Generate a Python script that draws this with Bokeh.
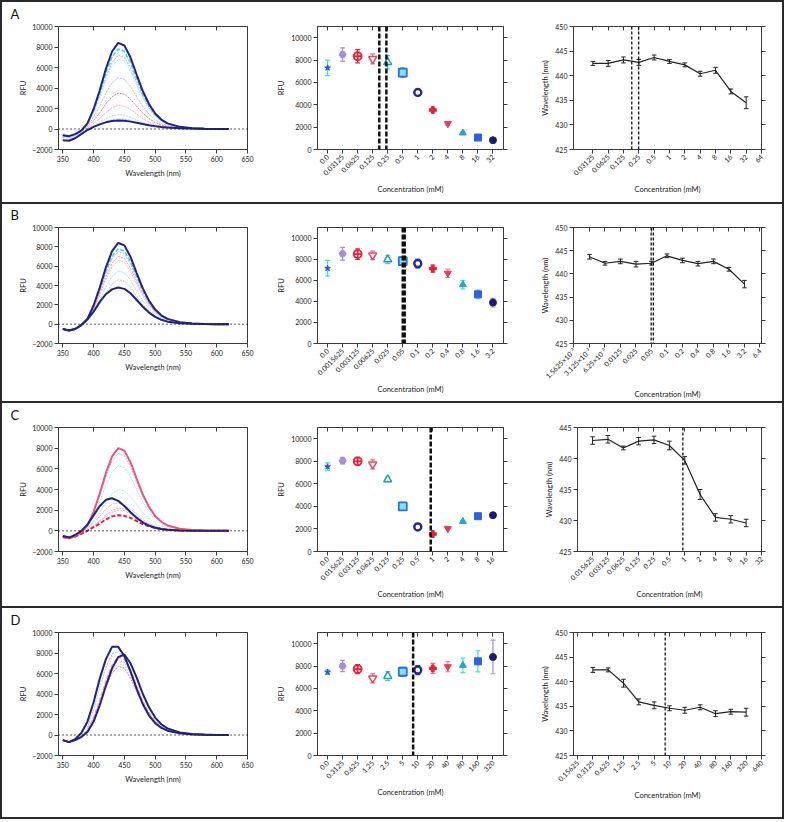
import math
from bokeh.plotting import figure
from bokeh.layouts import row, column
from bokeh.models import LinearAxis, FixedTicker, Span, Range1d, ColumnDataSource, CustomLabelingPolicy
from bokeh.embed import file_html
from bokeh.resources import INLINE

FONT = "Lato"
AX = "#3a3a3a"
NAVY = "#23237a"

# ---------------- data ----------------
wavelength = [350, 360, 370, 380, 390, 400, 410, 420, 430, 440, 450, 460, 470, 480, 490, 500, 510, 520, 540, 560, 580, 600, 620]

A_spectra = [
    [-600, -700, -500, -150, 540, 1930, 3780, 5880, 7560, 8400, 8150, 6970, 5290, 3700, 2440, 1510, 920, 550, 210, 80, 30, 0, 0],
    [-600, -700, -500, -150, 500, 1790, 3510, 5460, 7020, 7800, 7570, 6470, 4910, 3430, 2260, 1400, 860, 510, 200, 80, 30, 0, 0],
    [-600, -700, -500, -150, 450, 1660, 3240, 5040, 6480, 7200, 6980, 5980, 4540, 3170, 2090, 1300, 790, 470, 180, 70, 30, 0, 0],
    [-600, -700, -500, -150, 430, 1560, 3060, 4760, 6120, 6800, 6600, 5640, 4280, 2990, 1970, 1220, 750, 440, 170, 70, 30, 0, 0],
    [-600, -700, -500, -150, 300, 1150, 2250, 3500, 4500, 5000, 4850, 4150, 3150, 2200, 1450, 900, 550, 330, 130, 50, 20, 0, 0],
    [-650, -750, -550, -200, 200, 800, 1580, 2450, 3150, 3500, 3400, 2900, 2200, 1540, 1020, 630, 390, 230, 90, 40, 10, 0, 0],
    [-700, -800, -600, -250, 50, 530, 1040, 1610, 2070, 2300, 2230, 1910, 1450, 1010, 670, 410, 250, 150, 60, 20, 10, 0, 0],
    [-750, -850, -650, -300, 0, 320, 630, 980, 1260, 1400, 1360, 1160, 880, 620, 410, 250, 150, 90, 40, 10, 0, 0, 0],
    [-800, -900, -700, -350, -50, 230, 450, 700, 900, 1000, 970, 830, 630, 440, 290, 180, 110, 70, 30, 10, 0, 0, 0],
    [-1100, -1150, -900, -500, -100, 200, 450, 650, 780, 820, 800, 720, 600, 480, 370, 280, 200, 150, 80, 40, 20, 10, 0],
]
B_spectra = [
    [-500, -650, -500, -100, 540, 1930, 3780, 5880, 7560, 8400, 8150, 6970, 5290, 3700, 2440, 1510, 920, 550, 210, 80, 30, 0, 0],
    [-500, -650, -500, -100, 500, 1790, 3510, 5460, 7020, 7800, 7570, 6470, 4910, 3430, 2260, 1400, 860, 510, 200, 80, 30, 0, 0],
    [-500, -650, -500, -100, 480, 1730, 3380, 5250, 6750, 7500, 7280, 6230, 4730, 3300, 2180, 1350, 830, 490, 190, 80, 30, 0, 0],
    [-500, -650, -500, -100, 440, 1610, 3150, 4900, 6300, 7000, 6790, 5810, 4410, 3080, 2030, 1260, 770, 460, 180, 70, 30, 0, 0],
    [-500, -650, -500, -100, 410, 1520, 2970, 4620, 5940, 6600, 6400, 5480, 4160, 2900, 1910, 1190, 730, 430, 170, 70, 30, 0, 0],
    [-500, -650, -500, -100, 340, 1270, 2480, 3850, 4950, 5500, 5340, 4570, 3470, 2420, 1600, 990, 610, 360, 140, 60, 20, 0, 0],
    [-500, -650, -500, -100, 400, 1200, 2070, 3220, 4140, 4600, 4460, 3820, 2900, 2020, 1330, 830, 510, 300, 120, 50, 20, 0, 0],
    [-500, -650, -500, -100, 500, 1300, 2300, 3100, 3600, 3800, 3650, 3200, 2500, 1800, 1200, 750, 450, 260, 100, 40, 10, 0, 0],
]
C_spectra = [
    [-500, -650, -500, -100, 510, 1840, 3600, 5600, 7200, 8000, 7760, 6640, 5040, 3520, 2320, 1440, 880, 520, 200, 80, 30, 0, 0],
    [-500, -650, -500, -100, 480, 1730, 3380, 5250, 6750, 7500, 7280, 6230, 4730, 3300, 2180, 1350, 830, 490, 190, 80, 30, 0, 0],
    [-500, -650, -500, -100, 390, 1450, 2840, 4410, 5670, 6300, 6110, 5230, 3970, 2770, 1830, 1130, 690, 410, 160, 60, 30, 0, 0],
    [-550, -700, -500, -150, 230, 920, 1800, 2800, 3600, 4000, 3880, 3320, 2520, 1760, 1160, 720, 440, 260, 100, 40, 20, 0, 0],
    [-600, -750, -550, -200, 200, 800, 1400, 2100, 2600, 2700, 2500, 2100, 1600, 1100, 700, 450, 280, 170, 60, 20, 10, 0, 0],
    [-650, -800, -600, -250, 50, 500, 990, 1540, 1980, 2200, 2130, 1830, 1390, 970, 640, 400, 240, 140, 60, 20, 10, 0, 0],
    [-650, -800, -600, -250, 0, 460, 900, 1400, 1800, 2000, 1940, 1660, 1260, 880, 580, 360, 220, 130, 50, 20, 10, 0, 0],
    [-500, -650, -400, 0, 600, 1500, 2400, 3000, 3150, 2900, 2400, 1800, 1250, 800, 500, 300, 180, 110, 40, 20, 0, 0, 0],
    [-600, -700, -550, -300, 0, 350, 700, 1100, 1400, 1500, 1450, 1250, 950, 650, 430, 270, 170, 100, 40, 10, 0, 0, 0],
]
D_spectra = [
    [-500, -700, -500, -150, 420, 1540, 3020, 4690, 6030, 6700, 6500, 5560, 4220, 2950, 1940, 1210, 740, 440, 170, 70, 30, 0, 0],
    [-500, -700, -500, -150, 440, 1610, 3150, 4900, 6300, 7000, 6790, 5810, 4410, 3080, 2030, 1260, 770, 460, 180, 70, 30, 0, 0],
    [-500, -700, -500, -150, 460, 1680, 3290, 5110, 6570, 7300, 7080, 6060, 4600, 3210, 2120, 1310, 800, 470, 180, 70, 30, 0, 0],
    [-500, -700, -500, -150, 480, 1750, 3420, 5320, 6840, 7600, 7370, 6310, 4790, 3340, 2200, 1370, 840, 490, 190, 80, 30, 0, 0],
    [-500, -700, -450, 0, 800, 2500, 4600, 6600, 7900, 8150, 7500, 6200, 4600, 3150, 2050, 1250, 760, 460, 170, 70, 20, 0, 0],
    [-500, -700, -400, 200, 1300, 3200, 5500, 7400, 8600, 8600, 7700, 6200, 4500, 3000, 1900, 1150, 700, 420, 160, 60, 20, 0, 0],
    [-500, -700, -500, -200, 300, 1300, 2900, 4800, 6500, 7600, 7850, 7000, 5600, 4000, 2700, 1700, 1050, 650, 250, 100, 40, 10, 0],
]

A_mid_labels = ["0.0", "0.03125", "0.0625", "0.125", "0.25", "0.5", "1", "2", "4", "8", "16", "32"]
A_mid_rfu = [7300, 8490, 8340, 8100, 7800, 6880, 5100, 3530, 2310, 1480, 1070, 830]
A_mid_err = [700, 600, 600, 450, 600, 400, 250, 200, 150, 100, 100, 80]
B_mid_labels = ["0.0", "0.0015625", "0.003125", "0.00625", "0.025", "0.05", "0.1", "0.2", "0.4", "0.8", "1.6", "3.2"]
B_mid_rfu = [7130, 8510, 8480, 8360, 7970, 7820, 7580, 7100, 6660, 5580, 4660, 3880]
B_mid_err = [750, 600, 500, 400, 400, 400, 400, 350, 400, 400, 400, 400]
C_mid_labels = ["0.0", "0.015625", "0.03125", "0.0625", "0.125", "0.25", "0.5", "1", "2", "4", "8", "16"]
C_mid_rfu = [7520, 8060, 8000, 7730, 6390, 4000, 2180, 1550, 2030, 2660, 3130, 3220]
C_mid_err = [350, 300, 350, 400, 200, 100, 80, 60, 80, 80, 80, 120]
D_mid_labels = ["0.0", "0.3125", "0.625", "1.25", "2.5", "5", "10", "20", "40", "80", "160", "320"]
D_mid_rfu = [7460, 8000, 7730, 6900, 7100, 7490, 7640, 7790, 7940, 8060, 8420, 8810]
D_mid_err = [200, 500, 400, 400, 400, 400, 400, 450, 450, 650, 950, 1500]

A_wl_labels = ["0.03125", "0.0625", "0.125", "0.25", "0.5", "1", "2", "4", "8", "16", "32", "64"]
A_wl_pos = [0, 1, 2, 3, 4, 5, 6, 7, 8, 9, 10]
A_wl = [442.5, 442.5, 443.2, 442.7, 443.7, 442.9, 442.2, 440.4, 441.1, 436.8, 434.5]
A_wl_err = [0.4, 0.6, 0.6, 0.6, 0.5, 0.4, 0.4, 0.5, 0.6, 0.5, 1.2]
B_wl_labels = ["1.5625×10⁻³", "3.125×10⁻³", "6.25×10⁻³", "0.0125", "0.025", "0.05", "0.1", "0.2", "0.4", "0.8", "1.6", "3.2", "6.4"]
B_wl_pos = [1, 2, 3, 4, 5, 6, 7, 8, 9, 10, 11]
B_wl = [443.7, 442.3, 442.7, 442.1, 442.3, 443.9, 442.9, 442.2, 442.7, 441.0, 437.8]
B_wl_err = [0.5, 0.4, 0.5, 0.6, 0.4, 0.4, 0.5, 0.5, 0.5, 0.4, 0.8]
C_wl_labels = ["0.015625", "0.03125", "0.0625", "0.125", "0.25", "0.5", "1", "2", "4", "8", "16", "32"]
C_wl_pos = [0, 1, 2, 3, 4, 5, 6, 7, 8, 9, 10]
C_wl = [442.9, 443.1, 441.7, 442.8, 443.0, 442.1, 439.7, 434.2, 430.5, 430.2, 429.6]
C_wl_err = [0.6, 0.6, 0.3, 0.6, 0.6, 0.7, 0.6, 0.8, 0.6, 0.6, 0.6]
D_wl_labels = ["0.15625", "0.3125", "0.625", "1.25", "2.5", "5", "10", "20", "40", "80", "160", "320", "640"]
D_wl_pos = [1, 2, 3, 4, 5, 6, 7, 8, 9, 10, 11]
D_wl = [442.4, 442.4, 439.7, 435.9, 435.2, 434.6, 434.2, 434.8, 433.5, 433.9, 433.8]
D_wl_err = [0.5, 0.4, 0.8, 0.6, 0.7, 0.5, 0.6, 0.5, 0.6, 0.5, 0.8]

# threshold (dashed) line positions, in category index units
A_mid_thr = [3.44, 3.91]
B_mid_thr = [5.0, 5.13]
C_mid_thr = [6.86]
D_mid_thr = [5.69]
A_wl_thr = [2.54, 2.99]
B_wl_thr = [4.98, 5.12]
C_wl_thr = [5.88]
D_wl_thr = [5.72]

# ---------------- styles ----------------
A_spec_col = [NAVY, "#3fd6e6", "#b9a8ea", "#a7eaf2", "#c6b6ec", "#f2788a", "#f5a6b6", "#a6e0de", "#bcc4e4", NAVY]
A_spec_dash = ["solid", "4 2", "2 1", "2 1", "2 1", "2 1", "2 1", "2 1", "2 1", "solid"]
A_spec_w = [2, 1.6, 1, 1, 1, 1, 1, 1, 1, 2]
B_spec_col = [NAVY, "#3fd6e6", "#c6b6ec", "#f2a0b0", "#f5b6c4", "#a7e2f2", "#bcc4e4", NAVY]
B_spec_dash = ["solid", "4 2", "2 1", "2 1", "2 1", "2 1", "2 1", "solid"]
B_spec_w = [2, 1.6, 1, 1, 1, 1, 1, 2]
C_spec_col = ["#e8587a", "#c6b6ec", "#a7eaf2", "#a7eaf2", "#bcc4e4", "#c6b6ec", "#f5a6b6", NAVY, "#e8203a"]
C_spec_dash = ["solid", "2 1", "2 1", "2 1", "2 1", "2 1", "2 1", "solid", "4 2"]
C_spec_w = [2, 1, 1, 1, 1, 1, 1, 2, 2]
D_spec_col = ["#f2788a", "#a7eaf2", "#c6b6ec", "#f09ab0", "#a8c8f0", NAVY, NAVY]
D_spec_dash = ["2 1", "2 1", "2 1", "4 2", "2 1", "solid", "solid"]
D_spec_w = [1, 1, 1, 1.2, 1, 2, 2]

MK = ["star", "hex", "circle_cross", "inverted_triangle", "triangle", "square", "circle", "plus",
      "inverted_triangle", "triangle", "square", "circle"]
MK_LINE = ["#2b54c8", "#a58fd6", "#e8203a", "#e4485e", "#1e9fb0", "#2c6fd6", "#2a2a8c", "#e8203a",
           "#e83a5a", "#2aa3c4", "#2f62d4", "#1c1c6a"]
MK_FILL = ["#2b54c8", "#a58fd6", "#ffffff", "#ffffff", "#ffffff", "#7fe3f0", "#ffffff", "#e8203a",
           "#e83a5a", "#2aa3c4", "#2f62d4", "#1c1c6a"]
MK_SIZE = [6, 7, 8, 8, 8, 8, 7, 7, 7, 7, 7, 7]
MK_LW = [1, 1, 1.8, 1.5, 1.5, 1.8, 2.4, 1, 1, 1, 1, 1]
ERR_COL = ["#3fe0e0", "#a58fd6", "#e8203a", "#ef6a80", "#3fd0e0", "#2c6fd6", "#2a2a8c", "#f06a80",
           "#f07a90", "#3fe0e0", "#3fd8e8", "#a58fd6"]

HIDE = CustomLabelingPolicy(code="return new Set()")


def style_axis(ax, ticks, overrides=None, labels=True, inward=False, label=None, orient=None, lstand=4):
    ax.ticker = FixedTicker(ticks=ticks)
    ax.minor_tick_line_color = None
    ax.axis_line_color = AX
    ax.axis_line_width = 1
    ax.major_tick_line_color = AX
    ax.major_tick_out = 0 if inward else 4
    ax.major_tick_in = 4 if inward else 0
    ax.major_label_text_font = FONT
    ax.major_label_text_color = "#222222"
    if labels:
        ax.major_label_text_font_size = "7px"
        ax.major_label_standoff = 2
    else:
        ax.major_label_text_font_size = "1px"
        ax.major_label_standoff = 0
        ax.major_label_policy = HIDE
    if overrides:
        ax.major_label_overrides = overrides
    if orient is not None:
        ax.major_label_orientation = orient
    if label:
        ax.axis_label = label
        ax.axis_label_text_font = FONT
        ax.axis_label_text_font_size = "7.5px"
        ax.axis_label_text_font_style = "normal"
        ax.axis_label_text_color = "#222222"
        ax.axis_label_standoff = lstand


def base_fig(w, h, lb, rb, tb, bb, xr, yr):
    p = figure(width=w, height=h, x_range=Range1d(*xr), y_range=Range1d(*yr),
               output_backend="svg", toolbar_location=None,
               min_border_left=lb, min_border_right=rb, min_border_top=tb, min_border_bottom=bb,
               outline_line_color=AX, outline_line_width=1,
               background_fill_color="white", border_fill_color="white")
    p.xgrid.visible = False
    p.ygrid.visible = False
    return p


def spectra_fig(h, tb, bb, curves, cols, dashes, widths, letter):
    p = base_fig(260, h, 56, 15, tb, bb, (343, 650), (-2000, 10000))
    p.title.text = letter
    p.title.align = "left"
    p.title.offset = -48
    p.title.standoff = 0
    p.title.text_font = FONT
    p.title.text_font_size = "13px"
    p.title.text_font_style = "normal"
    p.title.text_color = "#111111"
    style_axis(p.xaxis[0], [350, 400, 450, 500, 550, 600, 650], label="Wavelength (nm)")
    style_axis(p.yaxis[0], [-2000, 0, 2000, 4000, 6000, 8000, 10000], label="RFU", lstand=1)
    top = LinearAxis()
    p.add_layout(top, "above")
    style_axis(top, [400, 450, 500, 550, 600], labels=False, inward=True)
    order = [i for i in range(len(curves)) if dashes[i] != "solid"] + \
            [i for i in range(len(curves)) if dashes[i] == "solid"]
    for i in order:
        p.line(wavelength, curves[i], line_color=cols[i], line_width=widths[i], line_dash=dashes[i])
    p.add_layout(Span(location=0, dimension="width", line_color="#222222", line_width=1.5, line_dash="1 3"))
    return p


def mid_fig(h, tb, bb, labels, vals, errs, thr):
    n = len(labels)
    p = base_fig(258, h, 55, 17, tb, bb, (-0.67, 11.7), (0, 11000))
    style_axis(p.xaxis[0], list(range(n)), overrides={i: s for i, s in enumerate(labels)},
               label="Concentration (mM)", orient=math.pi / 4)
    style_axis(p.yaxis[0], [0, 2000, 4000, 6000, 8000, 10000], label="RFU", lstand=2)
    top = LinearAxis()
    p.add_layout(top, "above")
    style_axis(top, list(range(n)), labels=False, inward=True)
    right = LinearAxis()
    p.add_layout(right, "right")
    style_axis(right, [0, 2000, 4000, 6000, 8000, 10000], labels=False)
    xs = list(range(n))
    lo = [v - e for v, e in zip(vals, errs)]
    hi = [v + e for v, e in zip(vals, errs)]
    p.segment(x0=xs, y0=lo, x1=xs, y1=hi, line_color=ERR_COL[:n], line_width=1.2)
    xl = [x - 0.16 for x in xs]
    xr = [x + 0.16 for x in xs]
    p.segment(x0=xl, y0=lo, x1=xr, y1=lo, line_color=ERR_COL[:n], line_width=1.2)
    p.segment(x0=xl, y0=hi, x1=xr, y1=hi, line_color=ERR_COL[:n], line_width=1.2)
    src = ColumnDataSource(dict(x=xs, y=vals, m=MK[:n], lc=MK_LINE[:n], fc=MK_FILL[:n],
                                s=MK_SIZE[:n], lw=MK_LW[:n]))
    p.scatter(x="x", y="y", marker="m", size="s", line_color="lc", fill_color="fc",
              line_width="lw", source=src)
    for t in thr:
        p.add_layout(Span(location=t, dimension="height", line_color="#111111",
                          line_width=2.5, line_dash="5 2"))
    return p


def wl_fig(h, tb, bb, lb, labels, pos, vals, errs, thr, xr, yr, yticks):
    n = len(labels)
    p = base_fig(262, h, lb, 21, tb, bb, xr, yr)
    style_axis(p.xaxis[0], list(range(n)), overrides={i: s for i, s in enumerate(labels)},
               label="Concentration (mM)", orient=math.pi / 4)
    style_axis(p.yaxis[0], yticks, label="Wavelength (nm)", lstand=2)
    top = LinearAxis()
    p.add_layout(top, "above")
    style_axis(top, list(range(n)), labels=False, inward=True)
    right = LinearAxis()
    p.add_layout(right, "right")
    style_axis(right, yticks, labels=False)
    lo = [v - e for v, e in zip(vals, errs)]
    hi = [v + e for v, e in zip(vals, errs)]
    p.line(pos, vals, line_color="#222222", line_width=1.2)
    p.segment(x0=pos, y0=lo, x1=pos, y1=hi, line_color="#222222", line_width=1)
    xl = [x - 0.15 for x in pos]
    xrr = [x + 0.15 for x in pos]
    p.segment(x0=xl, y0=lo, x1=xrr, y1=lo, line_color="#222222", line_width=1)
    p.segment(x0=xl, y0=hi, x1=xrr, y1=hi, line_color="#222222", line_width=1)
    for t in thr:
        p.add_layout(Span(location=t, dimension="height", line_color="#111111",
                          line_width=1.3, line_dash="3 2"))
    return p


BORDER = "2px solid #2a2a2a"
rows_cfg = [
    dict(h=200, tb=24, bb=53, letter="A",
         spec=(A_spectra, A_spec_col, A_spec_dash, A_spec_w),
         mid=(A_mid_labels, A_mid_rfu, A_mid_err, A_mid_thr),
         wl=(53, A_wl_labels, A_wl_pos, A_wl, A_wl_err, A_wl_thr, (-1.26, 11.0), (425, 450), [425, 430, 435, 440, 445, 450])),
    dict(h=197, tb=19, bb=55, letter="B",
         spec=(B_spectra, B_spec_col, B_spec_dash, B_spec_w),
         mid=(B_mid_labels, B_mid_rfu, B_mid_err, B_mid_thr),
         wl=(53, B_wl_labels, B_wl_pos, B_wl, B_wl_err, B_wl_thr, (-0.03, 12.1), (425, 450), [425, 430, 435, 440, 445, 450])),
    dict(h=203, tb=24, bb=55, letter="C",
         spec=(C_spectra, C_spec_col, C_spec_dash, C_spec_w),
         mid=(C_mid_labels, C_mid_rfu, C_mid_err, C_mid_thr),
         wl=(57, C_wl_labels, C_wl_pos, C_wl, C_wl_err, C_wl_thr, (-0.98, 11.0), (425, 445), [425, 430, 435, 440, 445])),
    dict(h=209, tb=24, bb=62, letter="D",
         spec=(D_spectra, D_spec_col, D_spec_dash, D_spec_w),
         mid=(D_mid_labels, D_mid_rfu, D_mid_err, D_mid_thr),
         wl=(53, D_wl_labels, D_wl_pos, D_wl, D_wl_err, D_wl_thr, (-0.26, 12.0), (425, 450), [425, 430, 435, 440, 445, 450])),
]

rows = []
for k, cfg in enumerate(rows_cfg):
    h, tb, bb = cfg["h"], cfg["tb"], cfg["bb"]
    s = spectra_fig(h, tb, bb, *cfg["spec"], cfg["letter"])
    m = mid_fig(h, tb, bb, *cfg["mid"])
    lb, *rest = cfg["wl"]
    w = wl_fig(h, tb, bb, lb, *rest)
    st = {"border-left": BORDER, "border-right": BORDER, "border-bottom": BORDER}
    if k == 0:
        st["border-top"] = BORDER
    rows.append(row(s, m, w, spacing=0, styles=st))

layout = column(*rows, spacing=0)
open("out.html", "w").write(file_html(layout, INLINE))
